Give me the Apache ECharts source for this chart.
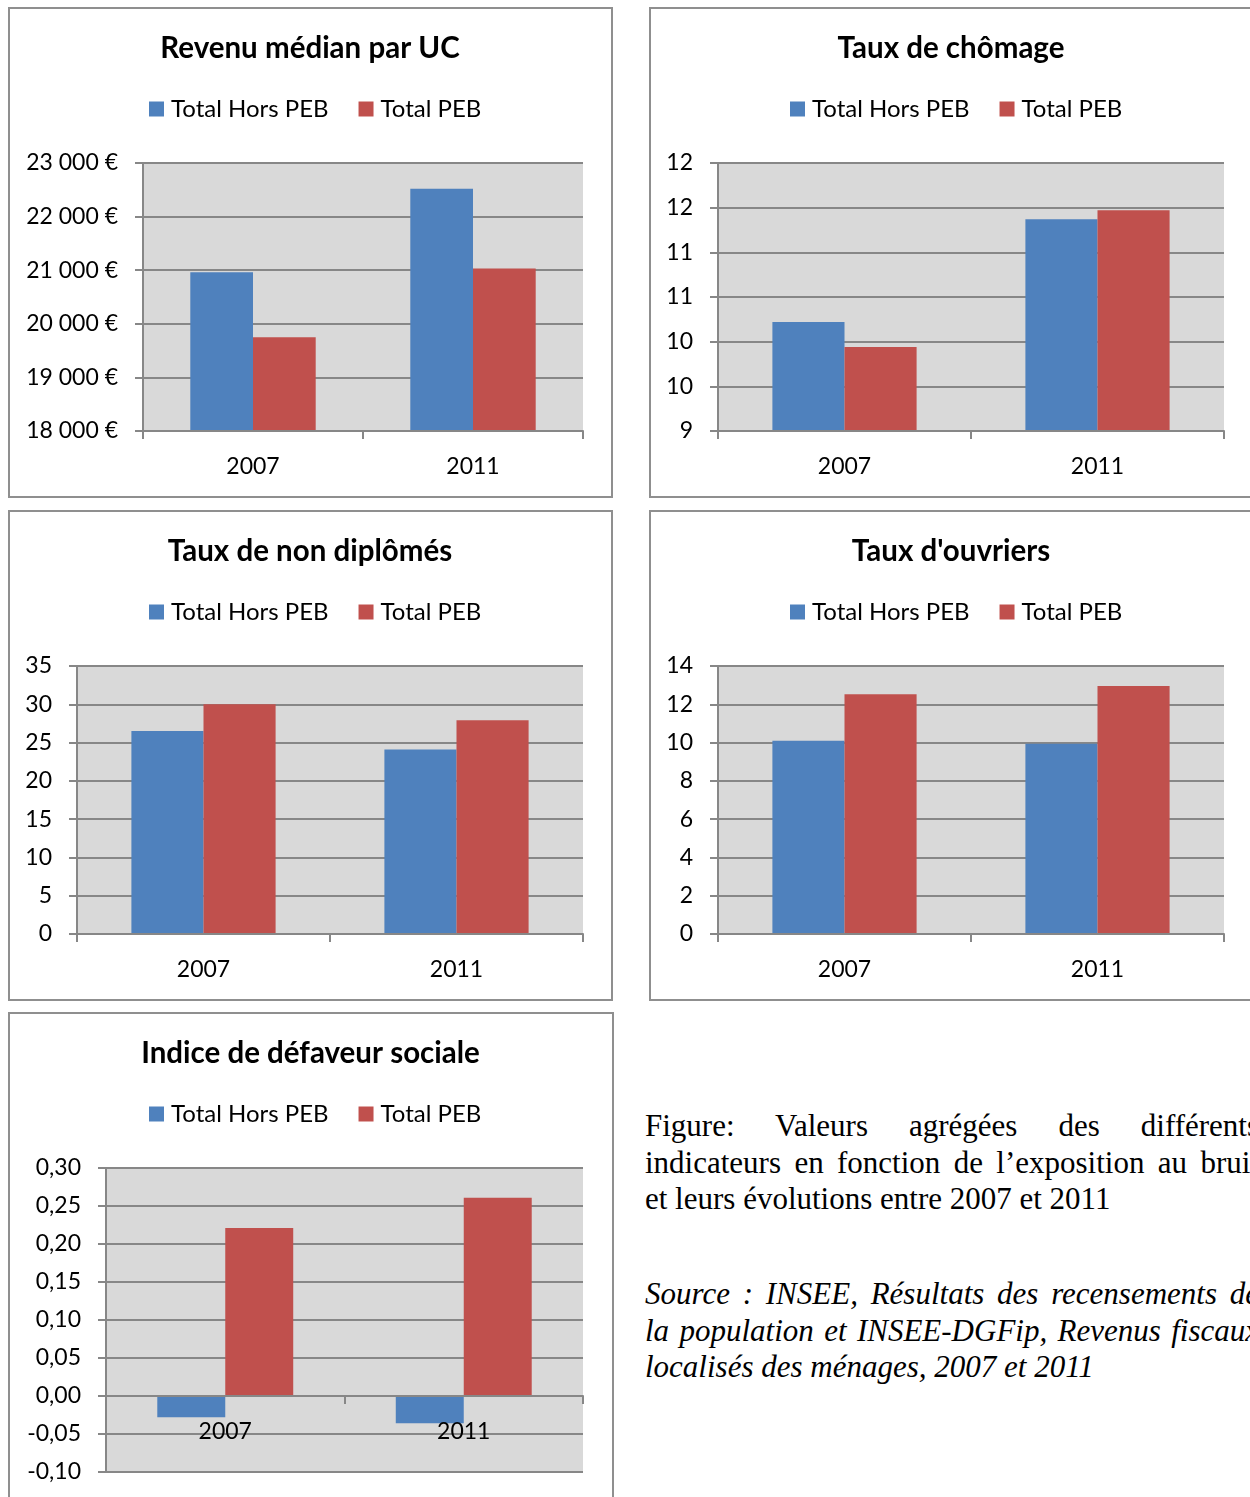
<!DOCTYPE html>
<html>
<head>
<meta charset="utf-8">
<script src="https://cdn.jsdelivr.net/npm/echarts@6/dist/echarts.min.js"></script>
<style>
  html, body { margin: 0; padding: 0; background: #fff; }
  #page { position: relative; width: 1250px; height: 1497px; overflow: hidden; background: #fff; }
  .chart { position: absolute; }
  .frame { position: absolute; box-sizing: border-box; border: 2px solid #8f8f8f; pointer-events: none; }
  .line { position: absolute; left: 645px; width: 614px; font-family: "Liberation Serif", "Times New Roman", serif;
          font-size: 31px; line-height: 36.6px; color: #000; text-align: justify; text-align-last: justify; white-space: nowrap; }
  .line.last { text-align: left; text-align-last: left; }
  .line.src { font-style: italic; }
</style>
</head>
<body>
<div id="page">
  <div class="chart" id="c1" style="left:8px;top:7px;width:604px;height:490px;"></div>
  <div class="frame" style="left:8px;top:7px;width:605px;height:491px;"></div>
  <div class="chart" id="c2" style="left:649px;top:7px;width:604px;height:490px;"></div>
  <div class="frame" style="left:649px;top:7px;width:605px;height:491px;"></div>
  <div class="chart" id="c3" style="left:8px;top:510px;width:604px;height:490px;"></div>
  <div class="frame" style="left:8px;top:510px;width:605px;height:491px;"></div>
  <div class="chart" id="c4" style="left:649px;top:510px;width:604px;height:490px;"></div>
  <div class="frame" style="left:649px;top:510px;width:605px;height:491px;"></div>
  <div class="chart" id="c5" style="left:8px;top:1012px;width:605px;height:490px;"></div>
  <div class="frame" style="left:8px;top:1012px;width:606px;height:491px;"></div>
  <div id="captions"></div>
</div>
<script>
// ---- Data ----
const categories = ['2007', '2011'];
const seriesNames = ['Total Hors PEB', 'Total PEB'];

const revenuTitle = 'Revenu médian par UC';
const revenuHorsPEB = [20960, 22520];
const revenuPEB = [19750, 21030];
const revenuTicks = ['18 000 €', '19 000 €', '20 000 €', '21 000 €', '22 000 €', '23 000 €'];

const chomageTitle = 'Taux de chômage';
const chomageHorsPEB = [10.22, 11.37];
const chomagePEB = [9.94, 11.47];
const chomageTicks = ['9', '10', '10', '11', '11', '12', '12'];

const diplomesTitle = 'Taux de non diplômés';
const diplomesHorsPEB = [26.5, 24.1];
const diplomesPEB = [30.0, 27.9];
const diplomesTicks = ['0', '5', '10', '15', '20', '25', '30', '35'];

const ouvriersTitle = "Taux d'ouvriers";
const ouvriersHorsPEB = [10.1, 9.94];
const ouvriersPEB = [12.52, 12.96];
const ouvriersTicks = ['0', '2', '4', '6', '8', '10', '12', '14'];

const defaveurTitle = 'Indice de défaveur sociale';
const defaveurHorsPEB = [-0.028, -0.036];
const defaveurPEB = [0.221, 0.261];
const defaveurTicks = ['-0,10', '-0,05', '0,00', '0,05', '0,10', '0,15', '0,20', '0,25', '0,30'];

const captionLines = [
  'Figure: Valeurs agrégées des différents',
  'indicateurs en fonction de l’exposition au bruit',
  'et leurs évolutions entre 2007 et 2011'
];
const sourceLines = [
  'Source : INSEE, Résultats des recensements de',
  'la population et INSEE-DGFip, Revenus fiscaux',
  'localisés des ménages, 2007 et 2011'
];

// ---- Captions ----
(function () {
  const host = document.getElementById('captions');
  function put(lines, top, cls) {
    lines.forEach(function (t, i) {
      const d = document.createElement('div');
      d.className = 'line ' + cls + (i === lines.length - 1 ? ' last' : '');
      d.style.top = (top + i * 36.6) + 'px';
      d.textContent = t;
      host.appendChild(d);
    });
  }
  put(captionLines, 1108, '');
  put(sourceLines, 1276, 'src');
})();

// ---- Styling ----
const BLUE = '#4f81bd';
const RED = '#c0504d';
const GRIDC = '#878787';
const FONT = 'Lato';

function makeOption(title, hors, peb, ticks, min, max, interval, grid) {
  const zeroOffset = (min < 0 && max > 0) ? -grid.height * (0 - min) / (max - min) : 0;
  return {
    animation: false,
    textStyle: { fontFamily: FONT },
    title: {
      text: title, left: 'center', top: 21,
      textStyle: { fontFamily: FONT, fontWeight: 'bold', fontSize: 29.5, color: '#000' }
    },
    legend: {
      data: seriesNames, left: 141, top: 90, padding: 0, icon: 'rect',
      itemWidth: 15, itemHeight: 15, itemGap: 30,
      textStyle: { fontFamily: FONT, fontSize: 24, color: '#000', padding: [0, 0, 0, 2] }
    },
    grid: Object.assign({ show: true, backgroundColor: '#d9d9d9', borderWidth: 0, containLabel: false, outerBoundsMode: 'none' }, grid),
    xAxis: {
      type: 'category', data: categories,
      offset: zeroOffset,
      axisLine: { show: true, onZero: false, lineStyle: { color: GRIDC, width: 2 } },
      axisTick: { show: true, length: 8, lineStyle: { color: GRIDC, width: 2 } },
      axisLabel: { fontFamily: FONT, fontSize: 23, color: '#000', margin: 24 },
      splitLine: { show: false },
      z: 5
    },
    yAxis: {
      type: 'value', min: min, max: max, interval: interval,
      axisLine: { show: true, lineStyle: { color: GRIDC, width: 2 } },
      axisTick: { show: true, length: 8, lineStyle: { color: GRIDC, width: 2 } },
      axisLabel: {
        fontFamily: FONT, fontSize: 23, color: '#000', margin: 25,
        formatter: function (v) { return ticks[Math.round((v - min) / interval)]; }
      },
      splitLine: { show: true, lineStyle: { color: GRIDC, width: 2 } }
    },
    series: [
      { name: seriesNames[0], type: 'bar', data: hors, itemStyle: { color: BLUE }, barGap: '0%', barCategoryGap: '43%' },
      { name: seriesNames[1], type: 'bar', data: peb, itemStyle: { color: RED }, barGap: '0%', barCategoryGap: '43%' }
    ]
  };
}

const charts = [
  ['c1', makeOption(revenuTitle, revenuHorsPEB, revenuPEB, revenuTicks, 18000, 23000, 1000, { left: 135, top: 156, width: 440, height: 268 })],
  ['c2', makeOption(chomageTitle, chomageHorsPEB, chomagePEB, chomageTicks, 9, 12, 0.5, { left: 69, top: 156, width: 506, height: 268 })],
  ['c3', makeOption(diplomesTitle, diplomesHorsPEB, diplomesPEB, diplomesTicks, 0, 35, 5, { left: 69, top: 156, width: 506, height: 268 })],
  ['c4', makeOption(ouvriersTitle, ouvriersHorsPEB, ouvriersPEB, ouvriersTicks, 0, 14, 2, { left: 69, top: 156, width: 506, height: 268 })],
  ['c5', makeOption(defaveurTitle, defaveurHorsPEB, defaveurPEB, defaveurTicks, -0.1, 0.3, 0.05, { left: 98, top: 156, width: 477, height: 304 })]
];
charts.forEach(function (c) {
  const inst = echarts.init(document.getElementById(c[0]), null, { renderer: 'canvas' });
  inst.setOption(c[1]);
});
</script>
</body>
</html>
